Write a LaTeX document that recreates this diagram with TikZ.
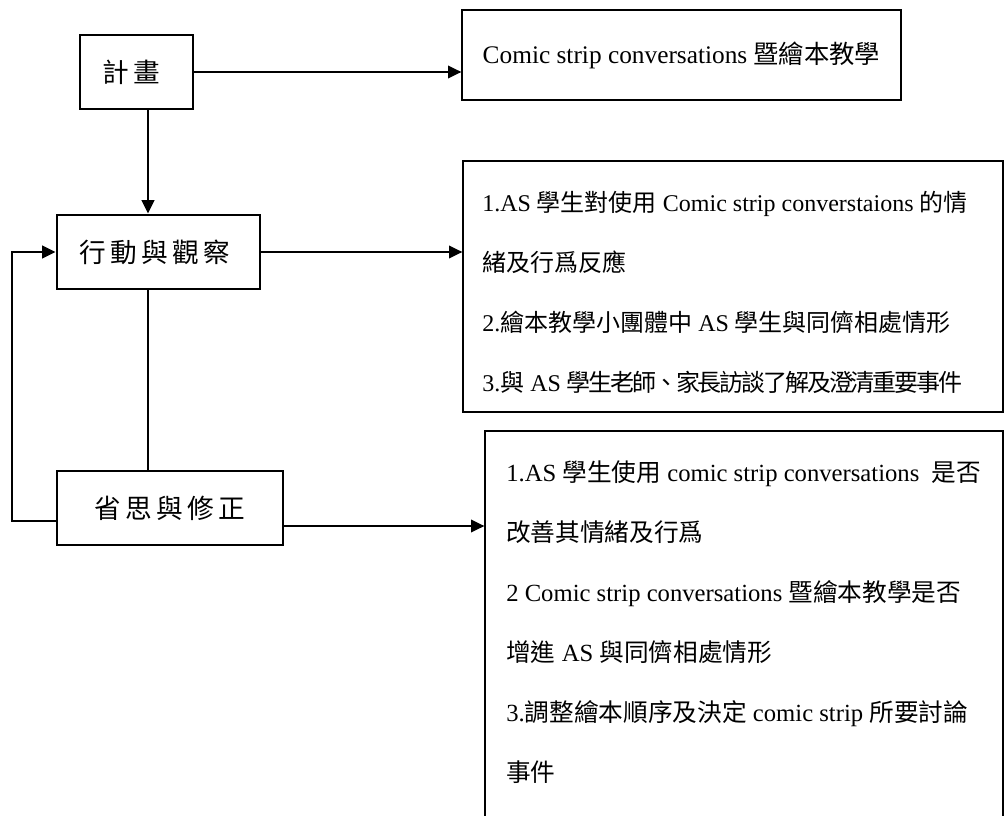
\documentclass[tikz,border=0pt]{standalone}
\usepackage{fontspec}
\setmainfont{Liberation Serif}
\newfontfamily\cjk{Noto Sans CJK TC}
\newfontfamily\cjktight[LetterSpace=-9]{Noto Sans CJK TC}
\newfontfamily\cjkwide[LetterSpace=16]{Noto Sans CJK TC}
\newcommand{\zh}[1]{{\cjk #1}}
\usetikzlibrary{arrows.meta, positioning}

\begin{document}
\begin{tikzpicture}[
      x=0.75pt, y=-0.75pt,
      >={Triangle[length=10pt, width=9.5pt]},
      stage/.style={
        rectangle,
        draw,
        line width=2.2pt,
        minimum height=55.5pt,
        inner sep=0pt,
        font=\cjkwide\fontsize{20}{24}\selectfont
      },
      panel/.style={
        rectangle,
        draw,
        line width=1pt,
        inner sep=0pt
      },
      notes/.style={
        anchor=north west,
        inner sep=0pt,
        align=left,
        font=\fontsize{18}{45}\selectfont
      },
      link/.style={line width=1.3pt}
    ]
    \useasboundingbox (0,0) rectangle (1005,816);
    % stages on the left
    \node[stage, minimum width=84.75pt] (plan) at (136.5,72) {計畫\kern8pt};
    \node[stage, minimum width=152.25pt] (act) at (158.5,252) {行動與觀察\kern6pt};
    \node[stage, minimum width=169.5pt] (refl) at (170,508) {省思與修正};
    % boxes on the right
    \node[panel, minimum width=329.25pt, minimum height=67.5pt,
          font=\fontsize{19}{22}\selectfont] (goal) at (681.5,55)
          {Comic strip conversations \zh{暨繪本教學}};
    \node[panel, minimum width=405pt, minimum height=188.25pt] (obs) at (733,286.5) {};
    \node[notes] (obstext) at (482,191) {%
      1.AS \zh{學生對使用} Comic strip converstaions \zh{的情}\\
      \zh{緒及行爲反應}\\
      2.\zh{繪本教學小團體中} AS \zh{學生與同儕相處情形}\\
      3.{\cjktight 與} AS {\cjktight 學生老師、家長訪談了解及澄清重要事件}};
    \node[panel, minimum width=388.5pt, minimum height=315pt] (eval) at (744,641) {};
    \node[notes, font=\fontsize{18.5}{45}\selectfont] (evaltext) at (506,460) {%
      1.AS \zh{學生使用} comic strip conversations\ \ \zh{是否}\\
      \zh{改善其情緒及行爲}\\
      2 Comic strip conversations \zh{暨繪本教學是否}\\
      \zh{增進} AS \zh{與同儕相處情形}\\
      3.\zh{調整繪本順序及決定} comic strip \zh{所要討論}\\
      \zh{事件}};
    % connectors
    \coordinate (spine) at (148,0);
    \coordinate (loop) at (12,521);
    \coordinate (evalrow) at (0,526);
    \draw[link, ->] (plan.east) -- (plan.east -| goal.west);
    \draw[link, ->] (spine |- plan.south) -- (spine |- act.north);
    \draw[link, ->] (act.east) -- (act.east -| obs.west);
    \draw[link] (spine |- act.south) -- (spine |- refl.north);
    \draw[link, ->] (loop -| refl.west) -- (loop) |- (act.west);
    \draw[link, ->] (evalrow -| refl.east) -- (evalrow -| eval.west);
  \end{tikzpicture}
\end{document}
